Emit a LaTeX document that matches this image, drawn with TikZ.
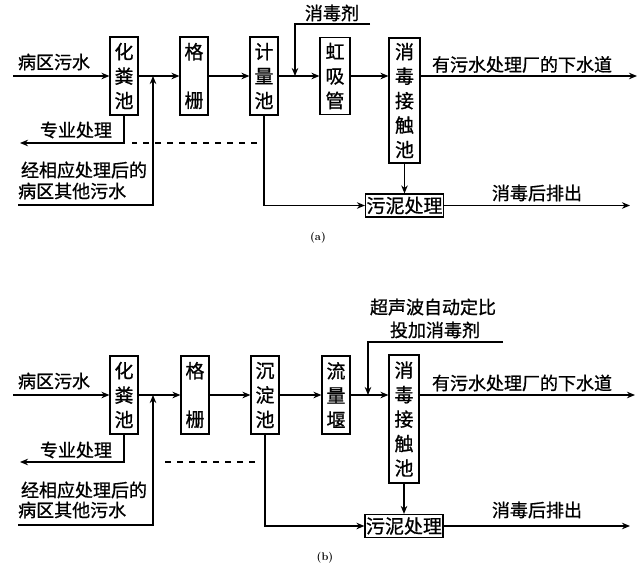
\documentclass[tikz,border=0pt]{standalone}
\usepackage{fontspec}
\newfontfamily\cjk{Noto Sans CJK SC}[FakeBold=0.9]
\usetikzlibrary{arrows.meta}
\begin{document}
\begin{tikzpicture}[x=1pt,y=-1pt,
  box/.style={draw, line width=1.1pt, inner sep=0pt, minimum width=28pt, align=center, font=\cjk\fontsize{19}{24.5}\selectfont},
  lbl/.style={inner sep=0pt, font=\cjk\fontsize{18}{22}\selectfont},
  flow/.style={line width=1.3pt, -{Stealth[length=8pt,width=6.5pt,inset=2.5pt]}},
  plain/.style={line width=1.3pt},
  dashline/.style={line width=1.2pt, dash pattern=on 6pt off 6pt},
  figcap/.style={inner sep=0pt, font=\fontsize{11}{13}\selectfont\bfseries}
]
\useasboundingbox (0,0) rectangle (643,573);

% ---------------- (a) ----------------
\node[box, minimum height=78pt] (a1) at (124,76) {化\\粪\\池};
\node[box, minimum height=78pt] (a2) at (194,76) {格\\[24pt]栅};
\node[box, minimum height=78pt] (a3) at (264,76) {计\\量\\池};
\node[box, minimum height=77pt, minimum width=30pt] (a4) at (335,76) {虹\\吸\\管};
\node[box, minimum height=125pt, minimum width=31pt] (a5) at (404.5,100.5) {消\\毒\\接\\触\\池};
\node[box, minimum width=78pt, minimum height=23pt] (a6) at (404.5,205.5) {污泥处理};

\coordinate (ain) at (13,76);
\coordinate (aout) at (637,76);
\coordinate (ad1) at (370,24);
\coordinate (ad2) at (295,24);
\coordinate (ad3) at (295,76);
\coordinate (asl) at (630,205.5);
\coordinate (ab2) at (20,143);
\coordinate (ads) at (257,143);
\coordinate (ade) at (132,143);
\coordinate (ar1) at (18,205);
\coordinate (ar2) at (153,205);
\coordinate (ar3) at (153,76);

\draw[flow] (ain) -- (a1);
\draw[flow] (a1) -- (a2);
\draw[flow] (a2) -- (a3);
\draw[flow] (a3) -- (a4);
\draw[flow] (a4) -- (a4 -| a5.west);
\draw[flow] (a4 -| a5.east) -- (aout);
\draw[flow] (ad1) -- (ad2) -- (ad3);
\draw[flow] (a3.south) |- (a6.west);
\draw[flow] (a5.south) -- (a6.north);
\draw[flow] (a6) -- (asl);
\draw[flow] (a1.south) |- (ab2);
\draw[dashline] (ads) -- (ade);
\draw[flow] (ar1) -- (ar2) -- (ar3);

\node[lbl] (al1) at (54,62) {病区污水};
\node[lbl] (al2) at (332,13) {消毒剂};
\node[lbl] (al3) at (522,64.5) {有污水处理厂的下水道};
\node[lbl] (al4) at (537,193) {消毒后排出};
\node[lbl] (al5) at (76,130) {专业处理};
\node[lbl] (al6) at (84,170) {经相应处理后的};
\node[lbl, anchor=west] (al7) at (18,191) {病区其他污水};
\node[figcap] (acap) at (318,238) {(a)};

% ---------------- (b) ----------------
\node[box, minimum height=78pt] (b1) at (124,395) {化\\粪\\池};
\node[box, minimum height=78pt] (b2) at (195,395) {格\\[24pt]栅};
\node[box, minimum height=78pt] (b3) at (265,395) {沉\\淀\\池};
\node[box, minimum height=78pt] (b4) at (336,395) {流\\量\\堰};
\node[box, minimum height=128pt, minimum width=30pt] (b5) at (404,419) {消\\毒\\接\\触\\池};
\node[box, minimum width=78pt, minimum height=23pt] (b6) at (404,526) {污泥处理};

\coordinate (bin) at (13,395);
\coordinate (bout) at (635,395);
\coordinate (bd1) at (503,342);
\coordinate (bd2) at (368,342);
\coordinate (bd3) at (368,395);
\coordinate (bsl) at (630,526);
\coordinate (bb2) at (20,462);
\coordinate (bds) at (255,462);
\coordinate (bde) at (160,462);
\coordinate (br1) at (18,525);
\coordinate (br2) at (153,525);
\coordinate (br3) at (153,395);

\draw[flow] (bin) -- (b1);
\draw[flow] (b1) -- (b2);
\draw[flow] (b2) -- (b3);
\draw[flow] (b3) -- (b4);
\draw[flow] (b4) -- (b4 -| b5.west);
\draw[flow] (b4 -| b5.east) -- (bout);
\draw[flow] (bd1) -- (bd2) -- (bd3);
\draw[flow] (b3.south) |- (b6.west);
\draw[flow] (b5.south) -- (b6.north);
\draw[flow] (b6) -- (bsl);
\draw[flow] (b1.south) |- (bb2);
\draw[dashline] (bds) -- (bde);
\draw[flow] (br1) -- (br2) -- (br3);

\node[lbl] (bl1) at (54,381) {病区污水};
\node[lbl] (bl2a) at (433,307) {超声波自动定比};
\node[lbl] (bl2b) at (435,330) {投加消毒剂};
\node[lbl] (bl3) at (522,383) {有污水处理厂的下水道};
\node[lbl] (bl4) at (537,510) {消毒后排出};
\node[lbl] (bl5) at (76,450) {专业处理};
\node[lbl] (bl6) at (84,490) {经相应处理后的};
\node[lbl, anchor=west] (bl7) at (18,510) {病区其他污水};
\node[figcap] (bcap) at (325,558) {(b)};
\end{tikzpicture}
\end{document}
